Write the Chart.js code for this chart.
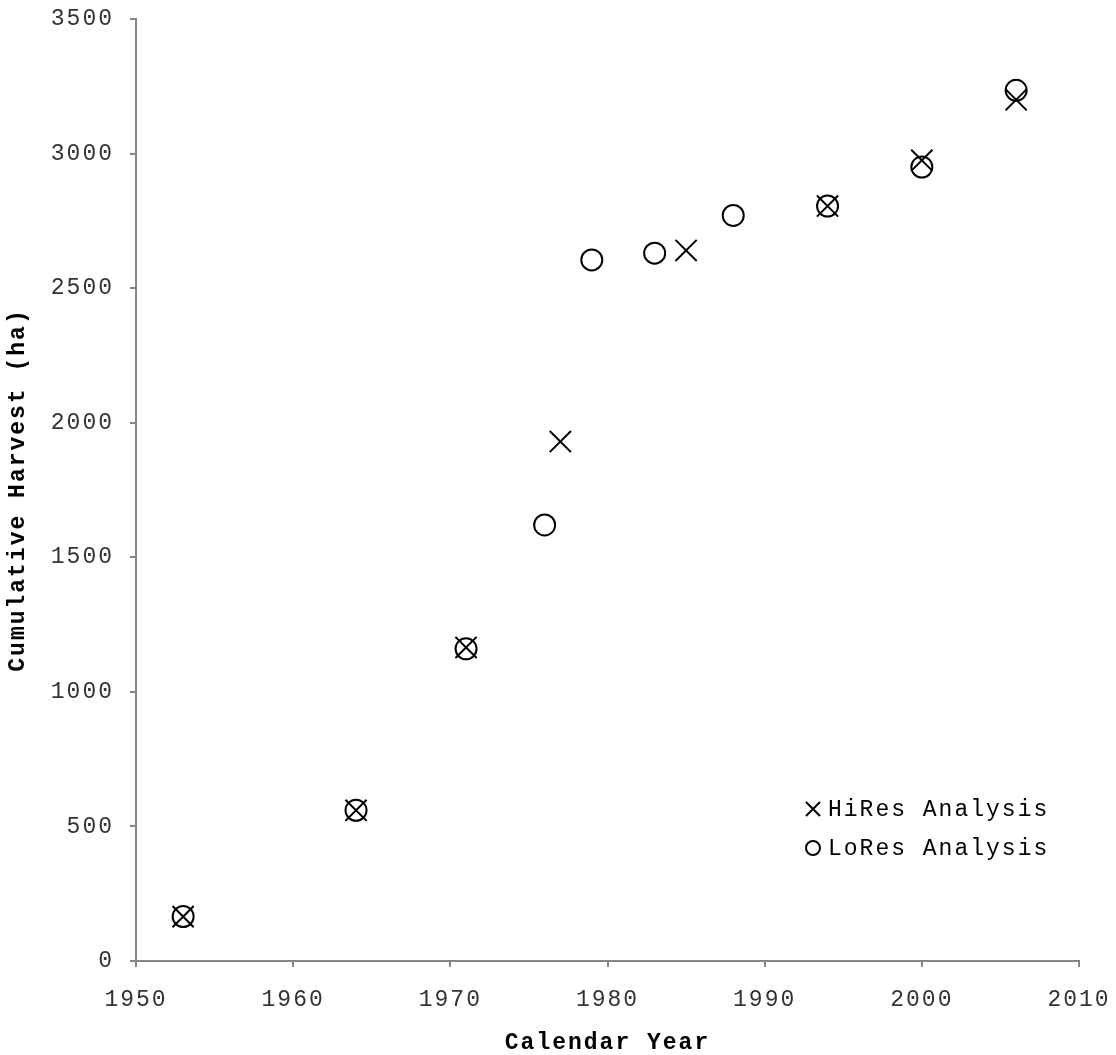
<!DOCTYPE html>
<html>
<head>
<meta charset="utf-8">
<script src="https://cdn.jsdelivr.net/npm/chart.js@4/dist/chart.umd.min.js"></script>
<style>
  html, body { margin: 0; padding: 0; background: #fff; }
  #wrap { width: 1116px; height: 1055px; position: relative; }
</style>
</head>
<body>
<div id="wrap"><canvas id="harvestChart"></canvas></div>
<script>
// values
const hiResYears = [1953, 1964, 1971, 1977, 1985, 1994, 2000, 2006];
const hiResHarvest = [165, 560, 1165, 1930, 2640, 2805, 2975, 3200];
const loResYears = [1953, 1964, 1971, 1976, 1979, 1983, 1988, 1994, 2000, 2006];
const loResHarvest = [165, 560, 1160, 1620, 2605, 2630, 2770, 2805, 2950, 3235];
const seriesLabels = ['HiRes Analysis', 'LoRes Analysis'];
const xTitle = 'Calendar Year';
const yTitle = 'Cumulative Harvest (ha)';

const FONT = "'Liberation Mono', 'Courier New', monospace";
const SPACING = '2px';
const AXIS_GREY = '#868686';

function toPoints(xs, ys) {
  return xs.map((x, i) => ({ x: x, y: ys[i] }));
}

// Courier text in the original is spaced out a little
const letterSpacingPlugin = {
  id: 'letterSpacing',
  beforeLayout(chart) { chart.ctx.letterSpacing = SPACING; },
  beforeDraw(chart) { chart.ctx.letterSpacing = SPACING; }
};

// legend sits inside the plot, lower right
const insideLegend = {
  id: 'insideLegend',
  afterDraw(chart) {
    const ctx = chart.ctx;
    const x0 = 813;
    const rows = [809, 848];
    ctx.save();
    ctx.letterSpacing = SPACING;
    ctx.font = '23px ' + FONT;
    ctx.fillStyle = '#000';
    ctx.textBaseline = 'middle';
    ctx.strokeStyle = '#000';
    ctx.lineWidth = 2;
    chart.data.datasets.forEach((ds, i) => {
      const y = rows[i];
      ctx.beginPath();
      if (ds.pointStyle === 'crossRot') {
        ctx.moveTo(x0 - 7, y - 7);
        ctx.lineTo(x0 + 7, y + 7);
        ctx.moveTo(x0 + 7, y - 7);
        ctx.lineTo(x0 - 7, y + 7);
      } else {
        ctx.arc(x0, y, 7, 0, Math.PI * 2);
      }
      ctx.stroke();
      ctx.fillText(ds.label, x0 + 15, y + 1);
    });
    ctx.restore();
  }
};

const ctx = document.getElementById('harvestChart');
const harvestChart = new Chart(ctx, {
  type: 'scatter',
  data: {
    datasets: [
      {
        label: seriesLabels[0],
        data: toPoints(hiResYears, hiResHarvest),
        pointStyle: 'crossRot',
        pointRadius: 15,
        borderColor: '#000',
        backgroundColor: 'rgba(0,0,0,0)',
        pointBorderWidth: 2,
      },
      {
        label: seriesLabels[1],
        data: toPoints(loResYears, loResHarvest),
        pointStyle: 'circle',
        pointRadius: 10.5,
        borderColor: '#000',
        backgroundColor: 'rgba(0,0,0,0)',
        pointBorderWidth: 2,
      },
    ],
  },
  options: {
    responsive: true,
    maintainAspectRatio: false,
    animation: false,
    layout: {
      padding: 0,
    },
    plugins: {
      legend: { display: false },
      tooltip: { enabled: false },
    },
    scales: {
      x: {
        type: 'linear',
        min: 1950,
        max: 2010,
        afterFit: (scale) => {
          scale.height = 94;
          scale.paddingLeft = 0;
          scale.paddingRight = 37;
        },
        ticks: {
          stepSize: 10,
          color: '#333',
          padding: 19,
          font: { family: FONT, size: 23 },
          callback: (v) => String(v),
        },
        grid: {
          drawOnChartArea: false,
          tickLength: 6,
          color: AXIS_GREY,
          lineWidth: 2,
        },
        border: { display: true, color: AXIS_GREY, width: 2 },
        title: {
          display: true,
          text: xTitle,
          color: '#000',
          font: { family: FONT, size: 23, weight: 'bold', lineHeight: 1 },
          padding: { top: 0, bottom: 0 },
        },
      },
      y: {
        min: 0,
        max: 3500,
        afterFit: (scale) => {
          scale.width = 136;
          scale.paddingTop = 19;
          scale.paddingBottom = 0;
        },
        ticks: {
          stepSize: 500,
          color: '#333',
          padding: 16,
          font: { family: FONT, size: 23 },
          callback: (v) => String(v),
        },
        grid: {
          drawOnChartArea: false,
          tickLength: 6,
          color: AXIS_GREY,
          lineWidth: 2,
        },
        border: { display: true, color: AXIS_GREY, width: 2 },
        title: {
          display: true,
          text: yTitle,
          color: '#000',
          font: { family: FONT, size: 23, weight: 'bold' },
          padding: { top: 4, bottom: 0 },
        },
      },
    },
  },
  plugins: [letterSpacingPlugin, insideLegend],
});
</script>
</body>
</html>
